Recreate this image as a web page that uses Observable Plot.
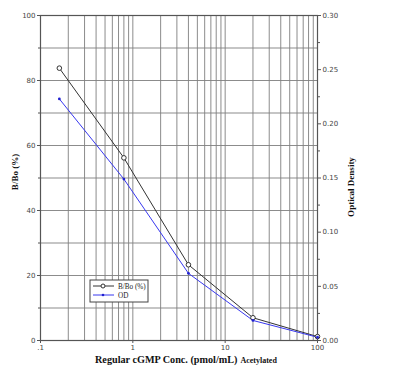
<!DOCTYPE html>
<html>
<head>
<meta charset="utf-8">
<script src="https://cdn.jsdelivr.net/npm/d3@7"></script>
<script src="https://cdn.jsdelivr.net/npm/@observablehq/plot@0.6"></script>
<style>
  html, body { margin: 0; padding: 0; background: #fff; }
  #chart { width: 393px; height: 369px; }
</style>
</head>
<body>
<div id="chart"></div>
<script>
// Data
const conc = [0.16, 0.8, 4, 20, 100];            // pmol/mL
const bboPct = [83.8, 56.2, 23.3, 7.0, 1.2];      // B/Bo (%)
const odVals = [0.223, 0.149, 0.062, 0.0185, 0.003]; // Optical Density

const xTicks = [0.1, 1, 10, 100];
const xTickLabels = [".1", "1", "10", "100"];
const leftTicks = [0, 20, 40, 60, 80, 100];
const odTicks = [0, 0.05, 0.10, 0.15, 0.20, 0.25, 0.30];
const odMax = 0.30;

const xGrid = [];
for (const dec of [0.1, 1, 10]) for (let k = 1; k <= 9; k++) xGrid.push(dec * k);
xGrid.push(100);
const yGrid = d3.range(0, 101, 10);

const odToPct = v => v / odMax * 100;

const bboData = conc.map((c, i) => ({c, v: bboPct[i]}));
const odData = conc.map((c, i) => ({c, v: odToPct(odVals[i])}));

const odMinor = d3.range(0.025, 0.3, 0.05).map(odToPct);

const plot = Plot.plot({
  width: 393,
  height: 369,
  marginLeft: 40,
  marginRight: 76,
  marginTop: 15,
  marginBottom: 29,
  style: {fontFamily: "'DejaVu Sans', sans-serif", fontSize: "7px", color: "#444", background: "#fff"},
  x: {type: "log", domain: [0.1, 100]},
  y: {domain: [0, 100]},
  marks: [
    Plot.gridX(xGrid, {stroke: "#808080", strokeOpacity: 0.9, strokeWidth: 1}),
    Plot.gridY(yGrid, {stroke: "#808080", strokeOpacity: 0.9, strokeWidth: 1}),
    Plot.axisX(xTicks, {tickSize: 3, tickPadding: 2, tickFormat: d => xTickLabels[xTicks.indexOf(d)], label: null, stroke: "#555", fill: "#444"}),
    Plot.axisY(leftTicks, {anchor: "left", tickSize: 3, tickPadding: 2, label: null, stroke: "#555", fill: "#444"}),
    Plot.axisY([10, 30, 50, 70, 90], {anchor: "left", tickSize: 2, tickFormat: () => "", label: null, stroke: "#555"}),
    Plot.axisY(odTicks.map(odToPct), {anchor: "right", tickSize: 3, tickPadding: 2, label: null, stroke: "#555", fill: "#444",
      tickFormat: d => (Math.round(d / 100 * odMax * 100) / 100).toFixed(2)}),
    Plot.axisY(odMinor, {anchor: "right", tickSize: 2, tickFormat: () => "", label: null, stroke: "#555"}),
    Plot.frame({stroke: "#555", strokeWidth: 1.2}),
    Plot.line(bboData, {x: "c", y: "v", stroke: "#333", strokeWidth: 1}),
    Plot.line(odData, {x: "c", y: "v", stroke: "#3838f0", strokeWidth: 1}),
    Plot.dot(bboData, {x: "c", y: "v", r: 2.3, fill: "white", stroke: "#333", strokeWidth: 1}),
    Plot.dot(odData, {x: "c", y: "v", r: 1.4, fill: "#2020d0", stroke: "none"})
  ]
});

document.getElementById("chart").appendChild(plot);

const svg = d3.select(plot);
const serif = "'Liberation Serif', 'DejaVu Serif', serif";

// axis titles
svg.append("text")
  .attr("transform", "translate(18,172) rotate(-90)")
  .attr("text-anchor", "middle")
  .attr("font-family", serif).attr("font-weight", "bold").attr("font-size", 9).attr("fill", "#111")
  .text("B/Bo (%)");
svg.append("text")
  .attr("transform", "translate(354,187) rotate(-90)")
  .attr("text-anchor", "middle")
  .attr("font-family", serif).attr("font-weight", "bold").attr("font-size", 9).attr("fill", "#111")
  .text("Optical Density");

// x-axis title with smaller "Acetylated"
const t = svg.append("text")
  .attr("x", 95).attr("y", 363)
  .attr("text-anchor", "start")
  .attr("font-family", serif)
  .attr("font-weight", "bold")
  .attr("fill", "#111");
t.append("tspan").attr("font-size", 10.2).text("Regular cGMP Conc. (pmol/mL)");
t.append("tspan").attr("font-size", 8).attr("dx", 3).text("Acetylated");

// legend box
const lg = svg.append("g").attr("transform", "translate(90,280)").attr("text-anchor", "start");
lg.append("rect").attr("width", 58).attr("height", 22).attr("fill", "white").attr("stroke", "#444").attr("stroke-width", 1);
lg.append("line").attr("x1", 3).attr("x2", 24).attr("y1", 6).attr("y2", 6).attr("stroke", "#333");
lg.append("circle").attr("cx", 13).attr("cy", 6).attr("r", 2).attr("fill", "white").attr("stroke", "#333");
lg.append("text").attr("x", 28).attr("y", 8.5).attr("font-size", 7.2).attr("font-family", serif).attr("fill", "#222").text("B/Bo (%)");
lg.append("line").attr("x1", 3).attr("x2", 24).attr("y1", 15).attr("y2", 15).attr("stroke", "#3838f0");
lg.append("circle").attr("cx", 13).attr("cy", 15).attr("r", 1.3).attr("fill", "#2020d0");
lg.append("text").attr("x", 28).attr("y", 17.5).attr("font-size", 7.2).attr("font-family", serif).attr("fill", "#222").text("OD");
</script>
</body>
</html>
